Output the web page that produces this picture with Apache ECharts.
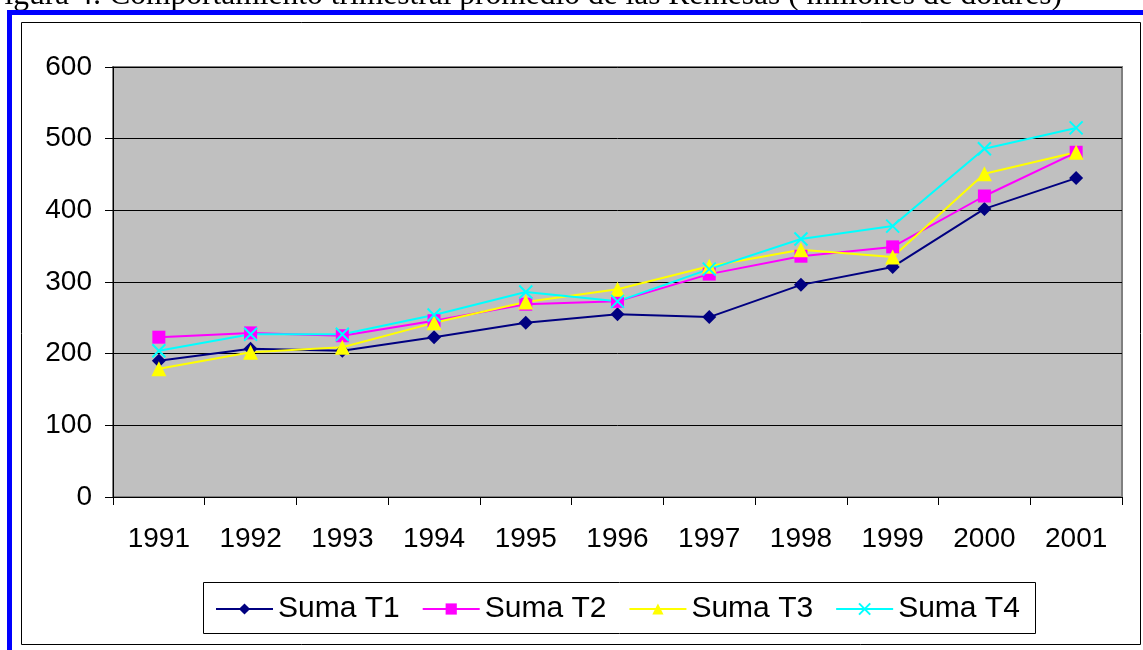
<!DOCTYPE html>
<html>
<head>
<meta charset="utf-8">
<script src="https://cdn.jsdelivr.net/npm/echarts@6/dist/echarts.min.js"></script>
<style>
html, body { margin: 0; padding: 0; background: #fff; }
#main { width: 1143px; height: 650px; }
</style>
</head>
<body>
<div id="main"></div>
<script>
// datos
var years = ['1991', '1992', '1993', '1994', '1995', '1996', '1997', '1998', '1999', '2000', '2001'];
var sumaT1 = [190, 207, 204, 223, 243, 255, 251, 296, 321, 402, 445];
var sumaT2 = [223, 229, 225, 246, 269, 273, 311, 336, 349, 420, 481];
var sumaT3 = [179, 202, 209, 243, 272, 290, 322, 345, 335, 451, 481];
var sumaT4 = [204, 227, 227, 254, 286, 273, 318, 360, 378, 486, 515];
var yTicks = [0, 100, 200, 300, 400, 500, 600];

var crossPath = 'path://M0,0L10,10M10,0L0,10';

function serie(name, data, color, symbol, size) {
    return {
        name: name,
        type: 'line',
        data: data,
        symbol: symbol,
        symbolSize: size,
        showAllSymbol: true,
        lineStyle: { color: color, width: 2 },
        itemStyle: { color: color, borderColor: color, borderWidth: symbol === crossPath ? 2 : 0 }
    };
}

var myChart = echarts.init(document.getElementById('main'));
var option = {
    backgroundColor: '#ffffff',
    animation: false,
    textStyle: { fontFamily: 'Liberation Sans, Arial, sans-serif' },
    graphic: [
        // titulo recortado arriba
        {
            type: 'text', z: 1,
            style: {
                text: 'Figura 4: Comportamiento trimestral promedio de las Remesas ( millones de dólares)',
                x: 1062, y: 12, align: 'right', verticalAlign: 'bottom',
                font: '31.5px "Liberation Serif", "Times New Roman", serif', fill: '#000'
            }
        },
        // marco azul
        { type: 'rect', z: 2, shape: { x: 7, y: 10, width: 5, height: 640 }, style: { fill: '#0000ff' } },
        { type: 'rect', z: 2, shape: { x: 7, y: 10, width: 1136, height: 5 }, style: { fill: '#0000ff' } },
        // marco negro del grafico
        { type: 'rect', z: 2, shape: { x: 21.5, y: 22.5, width: 1119, height: 622 }, style: { fill: 'none', stroke: '#000', lineWidth: 1 } },
        // marco de la leyenda
        { type: 'rect', z: 2, shape: { x: 203.5, y: 582.5, width: 832, height: 51 }, style: { fill: '#fff', stroke: '#000', lineWidth: 1 } }
    ],
    grid: {
        left: 113,
        right: 21,
        top: 67,
        bottom: 153,
        show: true,
        backgroundColor: '#c0c0c0',
        borderColor: '#808080',
        borderWidth: 2
    },
    legend: {
        z: 5,
        left: 215,
        top: 594,
        padding: 0,
        itemWidth: 57,
        itemHeight: 14,
        itemGap: 22,
        textStyle: { fontSize: 30, color: '#000', fontFamily: 'Liberation Sans, Arial, sans-serif' },
        data: ['Suma T1', 'Suma T2', 'Suma T3', 'Suma T4']
    },
    xAxis: {
        type: 'category',
        data: years,
        boundaryGap: true,
        axisLine: { lineStyle: { color: '#000', width: 1 } },
        axisTick: { show: true, length: 8, lineStyle: { color: '#000' } },
        axisLabel: { fontSize: 28, color: '#000', margin: 28 },
        splitLine: { show: false }
    },
    yAxis: {
        type: 'value',
        min: yTicks[0],
        max: yTicks[yTicks.length - 1],
        interval: 100,
        axisLine: { show: true, lineStyle: { color: '#000', width: 1 } },
        axisTick: { show: true, length: 8, lineStyle: { color: '#000' } },
        axisLabel: { fontSize: 28, color: '#000', margin: 21 },
        splitLine: { show: true, lineStyle: { color: '#000', width: 1 } }
    },
    series: [
        serie('Suma T1', sumaT1, '#000080', 'diamond', 14),
        serie('Suma T2', sumaT2, '#ff00ff', 'rect', 13),
        serie('Suma T3', sumaT3, '#ffff00', 'triangle', 15),
        serie('Suma T4', sumaT4, '#00ffff', crossPath, 13)
    ]
};
myChart.setOption(option);
</script>
</body>
</html>
